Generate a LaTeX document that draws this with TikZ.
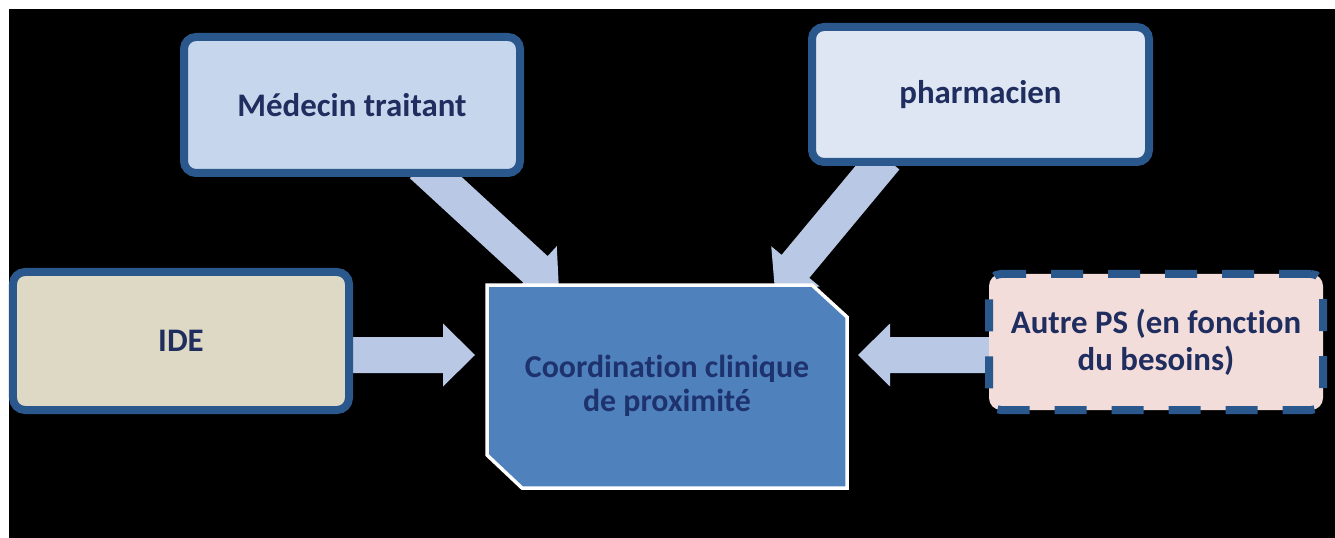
\documentclass[tikz,border=0pt]{standalone}
\usepackage{fontspec}
\setmainfont{Carlito}[Ligatures=NoCommon]
\usetikzlibrary{calc}
\definecolor{bdr}{RGB}{42,88,140}
\definecolor{medfill}{RGB}{198,214,236}
\definecolor{phafill}{RGB}{221,230,242}
\definecolor{idefill}{RGB}{222,217,196}
\definecolor{autfill}{RGB}{242,221,219}
\definecolor{ctrfill}{RGB}{79,129,189}
\definecolor{txt}{RGB}{31,45,95}
\definecolor{ctrtxt}{RGB}{30,50,110}
\definecolor{arrfill}{RGB}{185,200,228}
\pgfdeclarelayer{bg}
\pgfdeclarelayer{arr}
\pgfsetlayers{bg,arr,main}
\newcommand\blockarrow[2]{%
  \coordinate (ba-h) at ($(#2)!32bp!(#1)$);
  \fill[arrowstyle] ($(#1)!18bp!90:(#2)$) -- ($(ba-h)!18bp!90:(#2)$) -- ($(ba-h)!31.5bp!90:(#2)$) -- (#2)
    -- ($(ba-h)!31.5bp!-90:(#2)$) -- ($(ba-h)!18bp!-90:(#2)$) -- ($(#1)!18bp!-90:(#2)$) -- cycle;
}
\begin{document}
\begin{tikzpicture}[x=1bp,y=-1bp,
  box/.style={draw=bdr, line width=8bp, rounded corners=12bp, inner sep=0pt,
    text=txt, align=center, font=\bfseries\fontsize{33}{37}\selectfont},
  dashbox/.style={box, dash pattern=on 32bp off 25bp},
  arrowstyle/.style={fill=arrfill},
  ctrbox/.style={draw=white, line width=3.5bp, fill=ctrfill}]
\useasboundingbox (0,0) rectangle (1335,538);
\begin{pgfonlayer}{bg}
\fill[white] (0,0) rectangle (1335,538);
\fill[black] (9,9) rectangle (1335,538);
\end{pgfonlayer}

\node[box, fill=medfill, minimum width=336bp, minimum height=136bp] (med) at (352,105) {Médecin traitant};
\node[box, fill=phafill, minimum width=337bp, minimum height=135bp] (pha) at (980.5,94.5) {pharmacien};
\node[box, fill=idefill, minimum width=336bp, minimum height=138bp] (ide) at (181,341) {IDE};
\node[dashbox, fill=autfill, minimum width=334bp, minimum height=136bp] (aut) at (1156,342) {Autre PS (en fonction\\du besoins)};

\draw[ctrbox] (487,285) -- (812,285) -- (847,317) -- (847,488) -- (522,488) -- (487,455) -- cycle;
\node[text=ctrtxt, align=center, font=\bfseries\fontsize{32}{34}\selectfont] (ctr) at (667,386) {Coordination clinique\\de proximité};

\coordinate (s1) at ($(med.south)+(70,-12)$);
\coordinate (t1) at (559,291);
\coordinate (s2) at ($(pha.south)+(-95,-8)$);
\coordinate (t2) at (775,291);
\coordinate (s3) at ($(ide.east)+(-8,14)$);
\coordinate (t3) at (475,355);
\coordinate (s4) at ($(aut.west)+(8,13)$);
\coordinate (t4) at (858,355);
\begin{pgfonlayer}{arr}
\blockarrow{s1}{t1}
\blockarrow{s2}{t2}
\blockarrow{s3}{t3}
\blockarrow{s4}{t4}
\end{pgfonlayer}
\end{tikzpicture}
\end{document}
